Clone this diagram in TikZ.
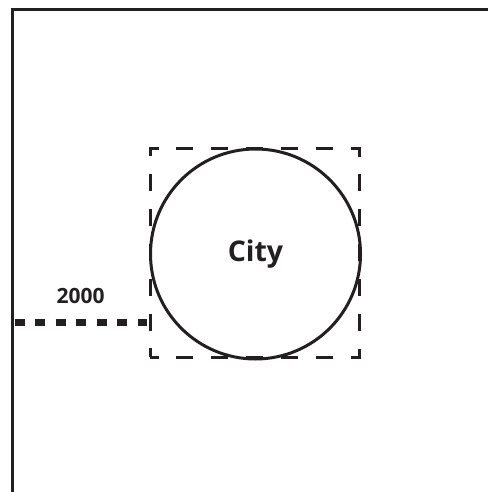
\documentclass[tikz,border=0pt]{standalone}
\usepackage{fontspec}
\setmainfont{Open Sans}
\definecolor{ink}{HTML}{231F20}
\begin{document}
\begin{tikzpicture}[x=1pt,y=1pt,
  framestyle/.style={draw=ink, line width=3.5pt, line cap=butt, line join=miter},
  citystyle/.style={circle, draw=ink, line width=3pt, minimum size=210pt, inner sep=0pt, outer sep=0pt,
     font=\bfseries\fontsize{28.5}{30}\selectfont, text=ink},
  boxstyle/.style={rectangle, draw=ink, line width=3pt, minimum width=209pt, minimum height=209pt,
     inner sep=0pt, outer sep=0pt, dash pattern=on 17pt off 17.833pt, dash phase=8.5pt},
  distline/.style={draw=ink, line width=7pt, dash pattern=on 10pt off 10.5pt},
  labelstyle/.style={font=\bfseries\fontsize{21}{23}\selectfont, text=ink, inner sep=0pt}]
\useasboundingbox (0,0) rectangle (488,-492);
% frame (top and left sides)
\coordinate (ftr) at (488,-9.5);
\coordinate (ftl) at (12.5,-9.5);
\coordinate (fbl) at (12.5,-492);
\draw[framestyle] (ftr) -- (ftl) -- (fbl);
% dashed square and city circle
\node[boxstyle] (box) at (254.5,-252.5) {};
\node[citystyle] (city) at (255.5,-254) {City};
% distance line
\coordinate (dstart) at (14.5,-322.5);
\draw[distline] (dstart) -- ([xshift=-3pt]dstart -| box.west);
\node[labelstyle] (dist) at (80.5,-295.5) {2000};
\end{tikzpicture}
\end{document}
